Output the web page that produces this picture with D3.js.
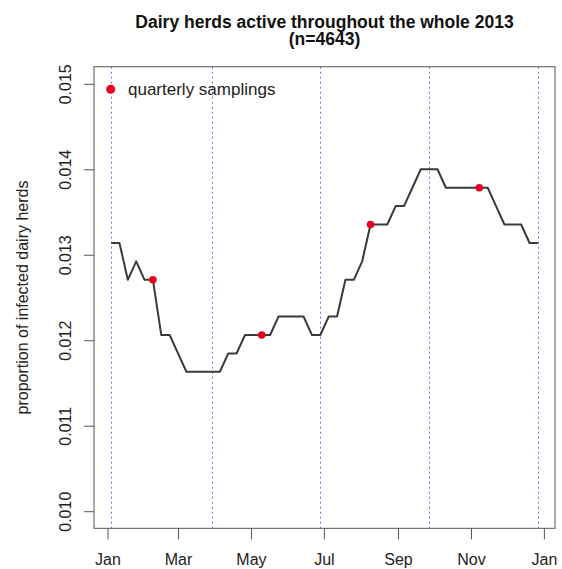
<!DOCTYPE html>
<meta charset="utf-8">
<head>
  <style>
    html, body { margin: 0; padding: 0; background: #fff; }
    svg { display: block; font-family: "Liberation Sans", Arial, sans-serif; }
  </style>
</head>
<script src="https://cdn.jsdelivr.net/npm/d3@7"></script>
<body>
<script>
  // weekly observations, 2013
  var weeks = [
    "2013-01-04","2013-01-11","2013-01-18","2013-01-25",
    "2013-02-01","2013-02-08","2013-02-15","2013-02-22",
    "2013-03-01","2013-03-08","2013-03-15","2013-03-22","2013-03-29",
    "2013-04-05","2013-04-12","2013-04-19","2013-04-26",
    "2013-05-03","2013-05-10","2013-05-17","2013-05-24","2013-05-31",
    "2013-06-07","2013-06-14","2013-06-21","2013-06-28",
    "2013-07-05","2013-07-12","2013-07-19","2013-07-26",
    "2013-08-02","2013-08-09","2013-08-16","2013-08-23","2013-08-30",
    "2013-09-06","2013-09-13","2013-09-20","2013-09-27",
    "2013-10-04","2013-10-11","2013-10-18","2013-10-25",
    "2013-11-01","2013-11-08","2013-11-15","2013-11-22","2013-11-29",
    "2013-12-06","2013-12-13","2013-12-20","2013-12-27"
  ];
  var proportion = [
    0.013138, 0.013138, 0.012707, 0.012923,
    0.012707, 0.012707, 0.012061, 0.012061,
    0.011846, 0.011631, 0.011631, 0.011631, 0.011631,
    0.011631, 0.011846, 0.011846, 0.012061,
    0.012061, 0.012061, 0.012061, 0.012277, 0.012277,
    0.012277, 0.012277, 0.012061, 0.012061,
    0.012277, 0.012277, 0.012707, 0.012707,
    0.012923, 0.013354, 0.013354, 0.013354, 0.013569,
    0.013569, 0.013784, 0.014000, 0.014000,
    0.014000, 0.013784, 0.013784, 0.013784,
    0.013784, 0.013784, 0.013784, 0.013569, 0.013354,
    0.013354, 0.013354, 0.013138, 0.013138
  ];
  var samplingDates = ["2013-02-08","2013-05-10","2013-08-09","2013-11-08"];
  var samplingValues = [0.012707, 0.012061, 0.013354, 0.013784];
  var quarterLines = ["2013-01-04","2013-03-29","2013-06-28","2013-09-27","2013-12-27"];
  var xTicks = ["2013-01-01","2013-03-01","2013-05-01","2013-07-01","2013-09-01","2013-11-01","2014-01-01"];
  var yTicks = [0.010, 0.011, 0.012, 0.013, 0.014, 0.015];
  var yLimits = [0.010, 0.015];

  var parse = d3.utcParse("%Y-%m-%d");
  var width = 562, height = 569;
  var plotLeft = 94, plotRight = 555, plotTop = 66.7, plotBottom = 528.3;

  var svg = d3.select("body").append("svg")
    .attr("width", width)
    .attr("height", height);

  // R style axes: 4% padding around the data range
  var ext = d3.extent(weeks, parse);
  var pad = (ext[1] - ext[0]) * 0.04;
  var x = d3.scaleUtc()
    .domain([new Date(+ext[0] - pad), new Date(+ext[1] + pad)])
    .range([plotLeft, plotRight]);
  var yPad = (yLimits[1] - yLimits[0]) * 0.04;
  var y = d3.scaleLinear()
    .domain([yLimits[0] - yPad, yLimits[1] + yPad])
    .range([plotBottom, plotTop]);

  // quarter dividers (snapped to the pixel grid so they stay thin and blue)
  function snap(v) { return Math.round(v) + 0.5; }
  svg.selectAll(".quarter").data(quarterLines).enter().append("line")
    .attr("class", "quarter")
    .attr("x1", function(d) { return snap(x(parse(d))); })
    .attr("x2", function(d) { return snap(x(parse(d))); })
    .attr("y1", plotTop)
    .attr("y2", plotBottom)
    .attr("stroke", "#7070ff")
    .attr("stroke-width", 1)
    .attr("stroke-dasharray", "2,3");

  var line = d3.line()
    .x(function(d, i) { return x(parse(weeks[i])); })
    .y(function(d) { return y(d); });

  svg.append("path")
    .datum(proportion)
    .attr("d", line)
    .attr("fill", "none")
    .attr("stroke", "#3a3a3a")
    .attr("stroke-width", 2)
    .attr("stroke-linejoin", "round");

  svg.selectAll(".sampling").data(samplingValues).enter().append("circle")
    .attr("class", "sampling")
    .attr("cx", function(d, i) { return x(parse(samplingDates[i])); })
    .attr("cy", function(d) { return y(d); })
    .attr("r", 3.8)
    .attr("fill", "#e8001c");

  // box
  svg.append("rect")
    .attr("x", plotLeft).attr("y", plotTop)
    .attr("width", plotRight - plotLeft).attr("height", plotBottom - plotTop)
    .attr("fill", "none")
    .attr("stroke", "#555")
    .attr("stroke-width", 1);

  var xAxis = d3.axisBottom(x)
    .tickValues(xTicks.map(parse))
    .tickFormat(d3.utcFormat("%b"))
    .tickSizeInner(11)
    .tickSizeOuter(0)
    .tickPadding(14);
  var gx = svg.append("g")
    .attr("transform", "translate(0," + plotBottom + ")")
    .call(xAxis);
  gx.select(".domain").remove();
  gx.selectAll("line").attr("stroke", "#555");
  gx.selectAll("text")
    .attr("fill", "#222")
    .style("font-size", "16px");

  var yAxis = d3.axisLeft(y)
    .tickValues(yTicks)
    .tickFormat(d3.format(".3f"))
    .tickSizeInner(10)
    .tickSizeOuter(0);
  var gy = svg.append("g")
    .attr("transform", "translate(" + plotLeft + ",0)")
    .call(yAxis);
  gy.select(".domain").remove();
  gy.selectAll("line").attr("stroke", "#555");
  // R draws the y labels parallel to the axis
  gy.selectAll("text")
    .attr("fill", "#222")
    .style("font-size", "16px")
    .attr("x", 0).attr("y", 0).attr("dy", null)
    .attr("text-anchor", "middle")
    .attr("transform", "translate(-23,0) rotate(-90)");

  svg.append("text")
    .attr("transform", "translate(28," + ((plotTop + plotBottom) / 2) + ") rotate(-90)")
    .attr("text-anchor", "middle")
    .attr("fill", "#222")
    .style("font-size", "16px")
    .text("proportion of infected dairy herds");

  var cx = (plotLeft + plotRight) / 2;
  var title = svg.append("text")
    .attr("text-anchor", "middle")
    .attr("fill", "#111")
    .style("font-size", "17.5px")
    .style("font-weight", "bold");
  title.append("tspan").attr("x", cx).attr("y", 27.5)
    .text("Dairy herds active throughout the whole 2013");
  title.append("tspan").attr("x", cx).attr("y", 45)
    .text("(n=4643)");

  // legend
  svg.append("circle")
    .attr("cx", 110.7).attr("cy", 89.3)
    .attr("r", 4.5)
    .attr("fill", "#e8001c");
  svg.append("text")
    .attr("x", 128).attr("y", 95)
    .attr("fill", "#222")
    .style("font-size", "17px")
    .text("quarterly samplings");
</script>
</body>
